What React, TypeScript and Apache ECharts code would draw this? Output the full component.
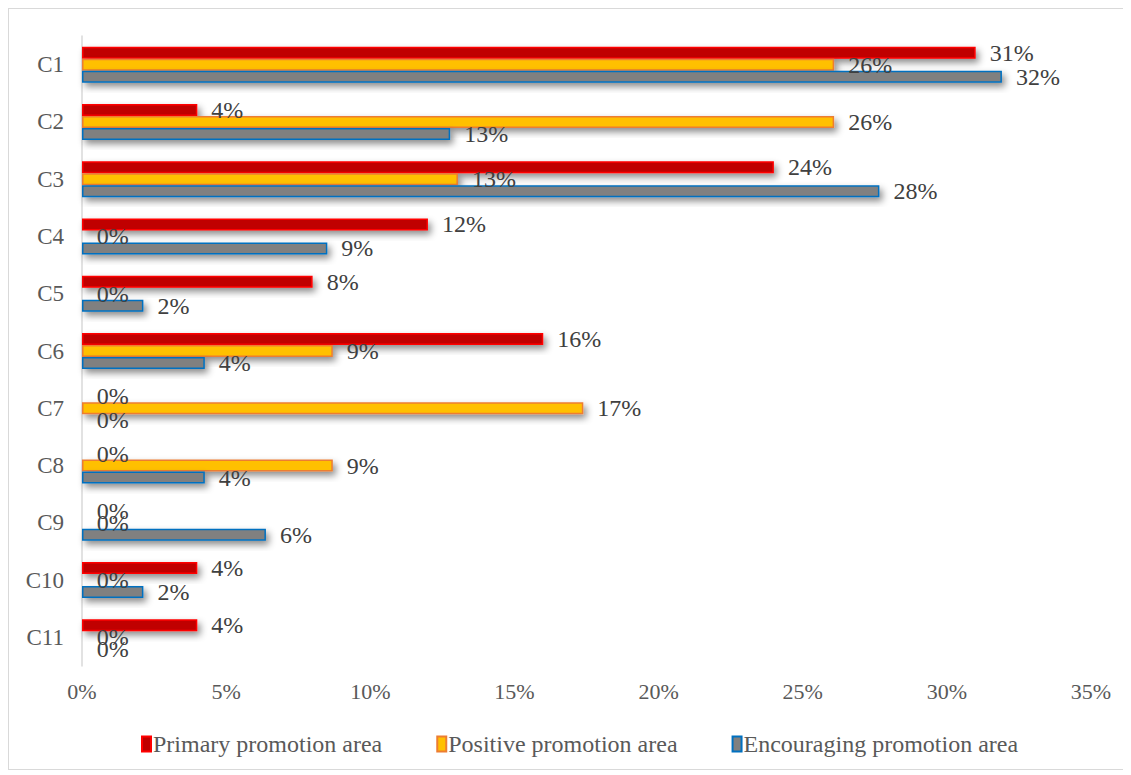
import React, { useEffect, useRef } from "react";
import * as echarts from "echarts";

const categories = ["C1", "C2", "C3", "C4", "C5", "C6", "C7", "C8", "C9", "C10", "C11"];
const primaryValues = [31, 4, 24, 12, 8, 16, 0, 0, 0, 4, 4];
const positiveValues = [26.09, 26.09, 13.04, 0, 0, 8.7, 17.39, 8.7, 0, 0, 0];
const encouragingValues = [31.91, 12.77, 27.66, 8.51, 2.13, 4.26, 0, 4.26, 6.38, 2.13, 0];
const xTicks = [0, 5, 10, 15, 20, 25, 30, 35];
const seriesNames = ["Primary promotion area", "Positive promotion area", "Encouraging promotion area"];

const FONT = "'Liberation Serif', 'Times New Roman', serif";

export default function App() {
  const ref = useRef<HTMLDivElement>(null);
  useEffect(() => {
    if (!ref.current) return;
    const chart = echarts.init(ref.current, null, { renderer: "svg" });
    const mk = (name: string, data: number[], fill: string, border: string) => ({
      name,
      type: "bar",
      data,
      barWidth: 12,
      barGap: "0%",
      itemStyle: {
        color: fill,
        borderColor: border,
        borderWidth: 1.5,
        shadowColor: "rgba(0,0,0,0.45)",
        shadowBlur: 7,
        shadowOffsetX: 3,
        shadowOffsetY: 4,
      },
      label: {
        show: true,
        position: "right",
        distance: 14,
        color: "#404040",
        fontFamily: FONT,
        fontSize: 24,
        formatter: (p: any) => Math.round(p.value) + "%",
      },
    });
    chart.setOption({
      animation: false,
      textStyle: { fontFamily: FONT },
      grid: { left: 73, right: 38, top: 27, bottom: 103 },
      xAxis: {
        type: "value",
        min: xTicks[0],
        max: xTicks[xTicks.length - 1],
        interval: 5,
        axisLine: { show: false },
        axisTick: { show: false },
        splitLine: { show: false },
        axisLabel: {
          formatter: "{value}%",
          color: "#595959",
          fontFamily: FONT,
          fontSize: 22,
          margin: 14,
        },
      },
      yAxis: {
        type: "category",
        data: categories,
        inverse: true,
        axisLine: { show: true, lineStyle: { color: "#d9d9d9", width: 1.5 } },
        axisTick: { show: false },
        axisLabel: { color: "#595959", fontFamily: FONT, fontSize: 23, margin: 18 },
      },
      legend: {
        bottom: 13,
        left: 132,
        padding: 0,
        itemWidth: 9,
        itemHeight: 15,
        itemGap: 54,
        icon: "rect",
        textStyle: { color: "#595959", fontFamily: FONT, fontSize: 24, padding: [0, 0, 0, -3] },
        data: seriesNames,
      },
      series: [
        mk(seriesNames[0], primaryValues, "#C00000", "#FF0000"),
        mk(seriesNames[1], positiveValues, "#FFC000", "#ED7D31"),
        mk(seriesNames[2], encouragingValues, "#808080", "#0070C0"),
      ],
    });
    return () => chart.dispose();
  }, []);
  return (
    <div
      ref={ref}
      style={{ width: 1122, height: 762, border: "1px solid #d9d9d9", boxSizing: "border-box" }}
    />
  );
}
